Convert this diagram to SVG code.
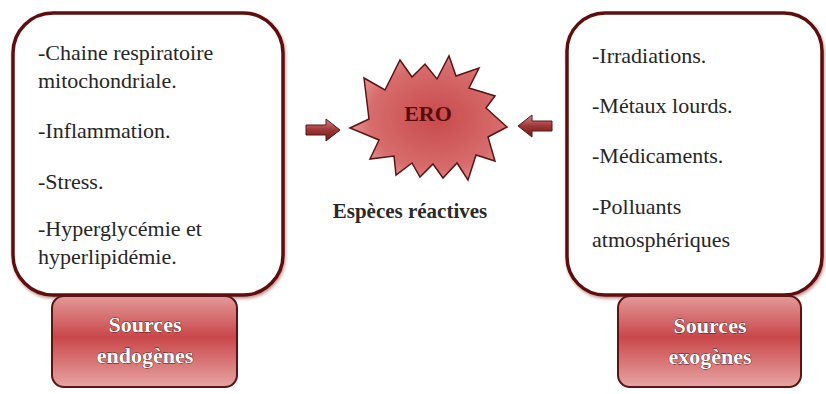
<svg xmlns="http://www.w3.org/2000/svg" width="826" height="394" viewBox="0 0 826 394">
<defs>
<linearGradient id="boxGrad" x1="0" y1="0" x2="0" y2="1">
<stop offset="0" stop-color="#e29a9a"/>
<stop offset="0.45" stop-color="#c9474a"/>
<stop offset="1" stop-color="#e7a4a4"/>
</linearGradient>
<radialGradient id="starGrad" cx="0.55" cy="0.5" r="0.6">
<stop offset="0" stop-color="#c84a4c"/>
<stop offset="0.7" stop-color="#d76c6c"/>
<stop offset="1" stop-color="#e7a0a0"/>
</radialGradient>
<linearGradient id="arrGrad" x1="0" y1="0" x2="0" y2="1">
<stop offset="0" stop-color="#d98888"/>
<stop offset="0.5" stop-color="#9e3636"/>
<stop offset="1" stop-color="#6a1a1a"/>
</linearGradient>
<filter id="sh" x="-10%" y="-10%" width="120%" height="120%">
<feGaussianBlur in="SourceAlpha" stdDeviation="1.5"/>
<feOffset dx="1" dy="1.5" result="b"/>
<feFlood flood-color="#8a2a2a" flood-opacity="0.5"/>
<feComposite in2="b" operator="in"/>
<feMerge><feMergeNode/><feMergeNode in="SourceGraphic"/></feMerge>
</filter>
</defs>
<style>
.big{fill:#ffffff;stroke:#5e1010;stroke-width:3.5}
.small{fill:url(#boxGrad);stroke:#5a1414;stroke-width:2}
.t{font-family:"Liberation Serif","Times New Roman",serif;font-size:22px;fill:#262626}
.w{font-family:"Liberation Serif","Times New Roman",serif;font-size:22px;font-weight:bold;fill:#ffffff;text-anchor:middle;stroke:#5a1010;stroke-width:0.8;paint-order:stroke}
.ero{font-family:"Liberation Serif","Times New Roman",serif;font-size:22px;font-weight:bold;fill:#5a0c0c;text-anchor:middle}
.lbl{font-family:"Liberation Serif","Times New Roman",serif;font-size:21px;font-weight:bold;fill:#2a2a2a;text-anchor:middle}
.arr{fill:url(#arrGrad);stroke:#5a1414;stroke-width:1}
</style>
<rect width="826" height="394" fill="#ffffff"/>

<g id="endogenous-list">
<rect class="big" x="13" y="13" width="270" height="282" rx="40" ry="40" filter="url(#sh)"/>
<text class="t" x="38" y="60">-Chaine respiratoire</text>
<text class="t" x="38" y="88">mitochondriale.</text>
<text class="t" x="38" y="138">-Inflammation.</text>
<text class="t" x="38" y="189">-Stress.</text>
<text class="t" x="38" y="236">-Hyperglycémie et</text>
<text class="t" x="38" y="264">hyperlipidémie.</text>
</g>

<g id="exogenous-list">
<rect class="big" x="567" y="13" width="255" height="282" rx="38" ry="38" filter="url(#sh)"/>
<text class="t" x="592" y="63">-Irradiations.</text>
<text class="t" x="592" y="113">-Métaux lourds.</text>
<text class="t" x="592" y="163">-Médicaments.</text>
<text class="t" x="592" y="214">-Polluants</text>
<text class="t" x="592" y="247">atmosphériques</text>
</g>

<g id="sources-endogenes">
<rect class="small" x="52" y="296" width="185" height="91" rx="12" ry="12"/>
<text class="w" x="145" y="332">Sources</text>
<text class="w" x="145" y="363">endogènes</text>
</g>

<g id="sources-exogenes">
<rect class="small" x="618" y="296" width="183" height="91" rx="12" ry="12"/>
<text class="w" x="710" y="333">Sources</text>
<text class="w" x="710" y="364">exogènes</text>
</g>

<g id="ero">
<polygon points="350,128 369,119 364,78 385,90 400,60 412,77 425,64 437,79 449,56 456,76 479,68 469,88 495,96 486,108 507,127 488,137 495,161 476,155 468,180 457,163 443,178 433,164 420,177 412,163 396,175 394,156 370,159 379,140" fill="url(#starGrad)" stroke="#5a1414" stroke-width="1.5" stroke-linejoin="miter"/>
<text class="ero" x="428" y="121">ERO</text>
<text class="lbl" x="410" y="218">Espèces réactives</text>
</g>

<g id="connectors">
<polygon class="arr" points="306,125 326,125 326,119 340,130 326,141 326,135 306,135"/>
<polygon class="arr" points="552,121 532,121 532,115 518,126 532,137 532,131 552,131"/>
</g>
</svg>
